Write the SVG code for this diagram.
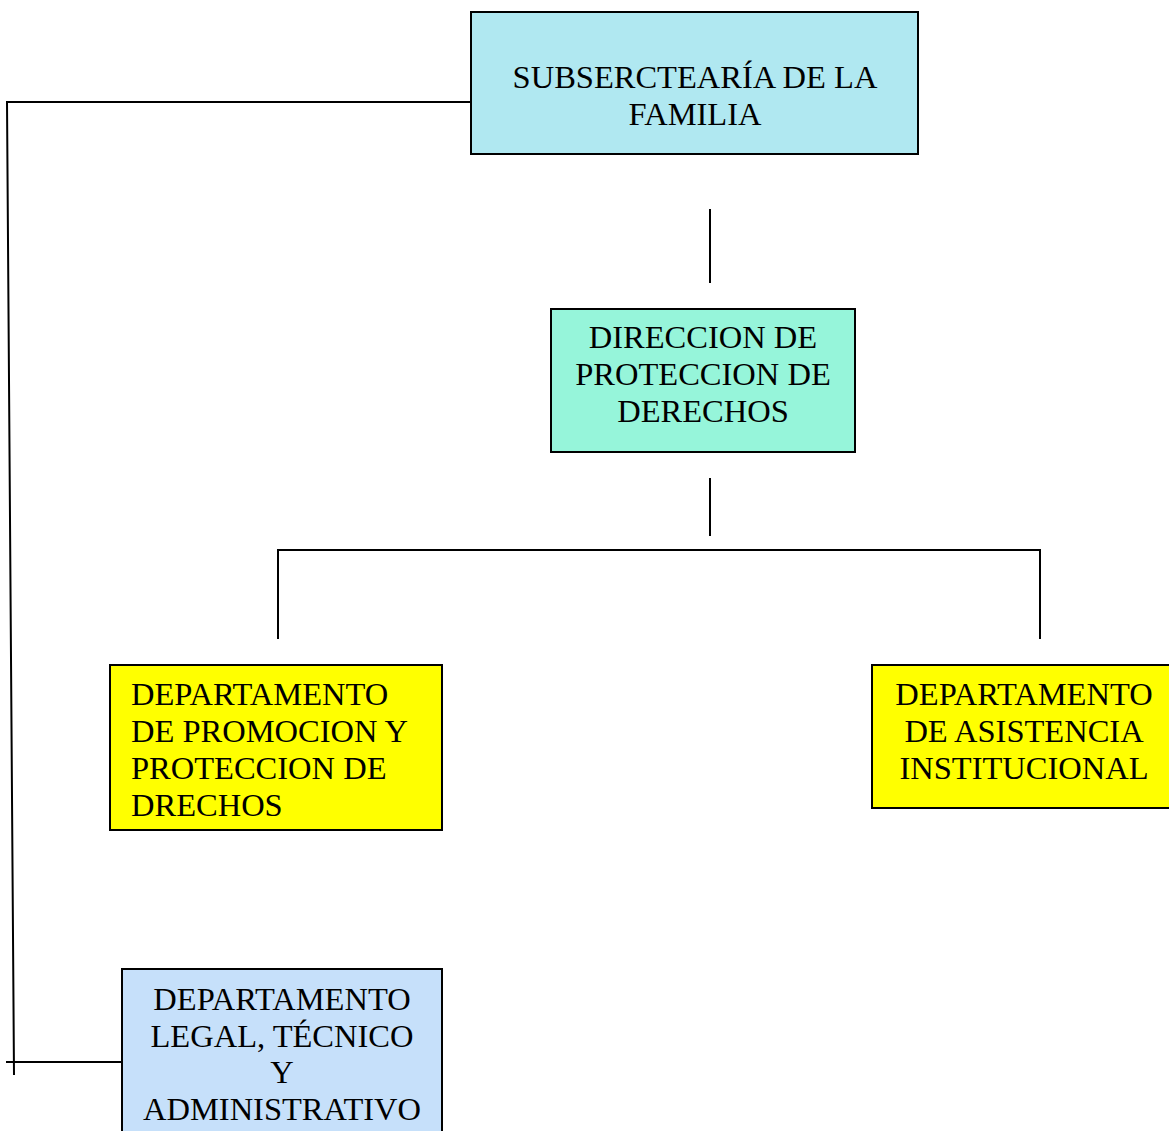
<svg xmlns="http://www.w3.org/2000/svg" width="1169" height="1131" viewBox="0 0 1169 1131">
<style>
.box{stroke:#000;stroke-width:2}
.t{font-family:"Liberation Serif","Times New Roman",serif;font-size:32.5px;fill:#000}
.c{text-anchor:middle}
.ln{stroke:#000;stroke-width:2;fill:none}
</style>
<rect width="1169" height="1131" fill="#fff"/>
<g id="connectors">
<polyline class="ln" points="471,102 7,102 14,1075"/>
<line class="ln" x1="6" y1="1062" x2="122" y2="1062"/>
<line class="ln" x1="710" y1="209" x2="710" y2="283"/>
<line class="ln" x1="710" y1="478" x2="710" y2="536"/>
<polyline class="ln" points="278,639 278,550 1040,550 1040,639"/>
</g>
<g id="subsecretaria">
<rect class="box" x="471" y="12" width="447" height="142" fill="#B0E8F1"/>
<text class="t c" x="695" y="88">SUBSERCTEARÍA DE LA</text>
<text class="t c" x="695" y="125">FAMILIA</text>
</g>
<g id="direccion">
<rect class="box" x="551" y="309" width="304" height="143" fill="#96F5DA"/>
<text class="t c" x="703" y="348">DIRECCION DE</text>
<text class="t c" x="703" y="385">PROTECCION DE</text>
<text class="t c" x="703" y="422">DERECHOS</text>
</g>
<g id="dep-promocion">
<rect class="box" x="110" y="665" width="332" height="165" fill="#FFFF00"/>
<text class="t" x="131" y="705">DEPARTAMENTO</text>
<text class="t" x="131" y="742">DE PROMOCION Y</text>
<text class="t" x="131" y="779">PROTECCION DE</text>
<text class="t" x="131" y="816">DRECHOS</text>
</g>
<g id="dep-asistencia">
<rect class="box" x="872" y="665" width="310" height="143" fill="#FFFF00"/>
<text class="t c" x="1024" y="705">DEPARTAMENTO</text>
<text class="t c" x="1024" y="742">DE ASISTENCIA</text>
<text class="t c" x="1024" y="779">INSTITUCIONAL</text>
</g>
<g id="dep-legal">
<rect class="box" x="122" y="969" width="320" height="180" fill="#C6E0FA"/>
<text class="t c" x="282" y="1010">DEPARTAMENTO</text>
<text class="t c" x="282" y="1047">LEGAL, TÉCNICO</text>
<text class="t c" x="282" y="1083">Y</text>
<text class="t c" x="282" y="1120">ADMINISTRATIVO</text>
</g>
</svg>
